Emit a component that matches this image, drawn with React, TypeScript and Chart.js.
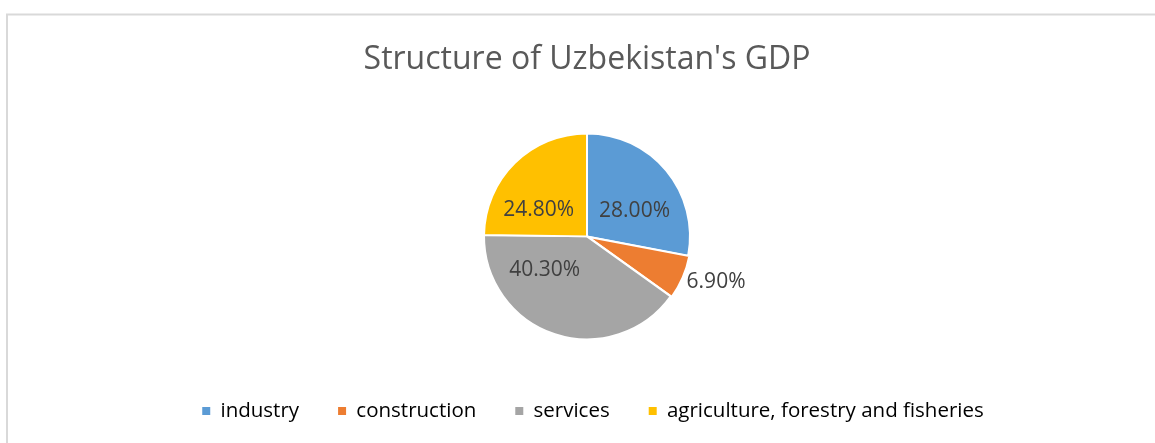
import React, { useEffect, useRef } from "react";
import { Chart, registerables } from "chart.js";

Chart.register(...registerables);

const TITLE = "Structure of Uzbekistan's GDP";
const categories = ["industry", "construction", "services", "agriculture, forestry and fisheries"];
const shares = [28.0, 6.9, 40.3, 24.8];
const colors = ["#5B9BD5", "#ED7D31", "#A5A5A5", "#FFC000"];

// label placement (polar, relative to pie centre): degrees, pixels
const labelAngles = [-27.9, 19.5, 141.5, 208.6];
const labelRadii = [53.8, 136.9, 54.1, 55.0];

const FONT = "'Open Sans', 'Liberation Sans', sans-serif";

const framePlugin = {
  id: "frame",
  afterLayout(chart: any) {
    if (chart.legend) {
      chart.legend.left += 6;
      chart.legend.right += 6;
    }
  },
  beforeDraw(chart: any) {
    const ctx = chart.ctx;
    ctx.save();
    ctx.strokeStyle = "#D9D9D9";
    ctx.lineWidth = 2;
    ctx.beginPath();
    ctx.moveTo(7, 460);
    ctx.lineTo(7, 14.5);
    ctx.lineTo(1170, 14.5);
    ctx.stroke();
    ctx.restore();
  },
};

const labelPlugin = {
  id: "pieLabels",
  afterDatasetsDraw(chart: any) {
    const ctx = chart.ctx;
    const meta = chart.getDatasetMeta(0);
    const cx = meta.data[0].x;
    const cy = meta.data[0].y;
    ctx.save();
    ctx.font = `21px ${FONT}`;
    ctx.fillStyle = "#404040";
    ctx.textAlign = "center";
    ctx.textBaseline = "middle";
    shares.forEach((v, i) => {
      const a = (labelAngles[i] * Math.PI) / 180;
      const x = cx + labelRadii[i] * Math.cos(a);
      const y = cy + labelRadii[i] * Math.sin(a);
      ctx.fillText(v.toFixed(2) + "%", x, y);
    });
    ctx.restore();
  },
};

export default function App() {
  const ref = useRef<HTMLCanvasElement | null>(null);
  useEffect(() => {
    if (!ref.current) return;
    const chart = new Chart(ref.current, {
      type: "pie",
      data: {
        labels: categories,
        datasets: [
          {
            data: shares,
            backgroundColor: colors,
            borderColor: "#FFFFFF",
            borderWidth: 2,
            offset: [0, 3, 0, 0],
            radius: 103,
          } as any,
        ],
      },
      options: {
        responsive: false,
        animation: false,
        layout: { padding: { left: 19, right: 0, top: 0, bottom: 11.75 } },
        plugins: {
          tooltip: { enabled: false },
          title: {
            display: true,
            text: TITLE,
            color: "#595959",
            font: { family: FONT, size: 32, weight: "normal", lineHeight: 1.2 },
            padding: { top: 40.8, bottom: 31.8 },
          },
          legend: {
            display: true,
            position: "bottom",
            labels: {
              color: "#595959",
              font: { family: FONT, size: 20.5 },
              boxWidth: 8,
              boxHeight: 8,
              padding: 39,
              generateLabels: (c: any) =>
                categories.map((t, i) => ({
                  text: t,
                  fillStyle: colors[i],
                  strokeStyle: colors[i],
                  lineWidth: 0,
                  hidden: false,
                  index: i,
                })),
            },
          },
        },
      },
      plugins: [framePlugin, labelPlugin],
    });
    return () => chart.destroy();
  }, []);
  return (
    <div style={{ position: "fixed", left: 0, top: 0, width: 1155, height: 443, background: "#fff" }}>
      <canvas ref={ref} width={1155} height={443} style={{ display: "block" }} />
    </div>
  );
}
